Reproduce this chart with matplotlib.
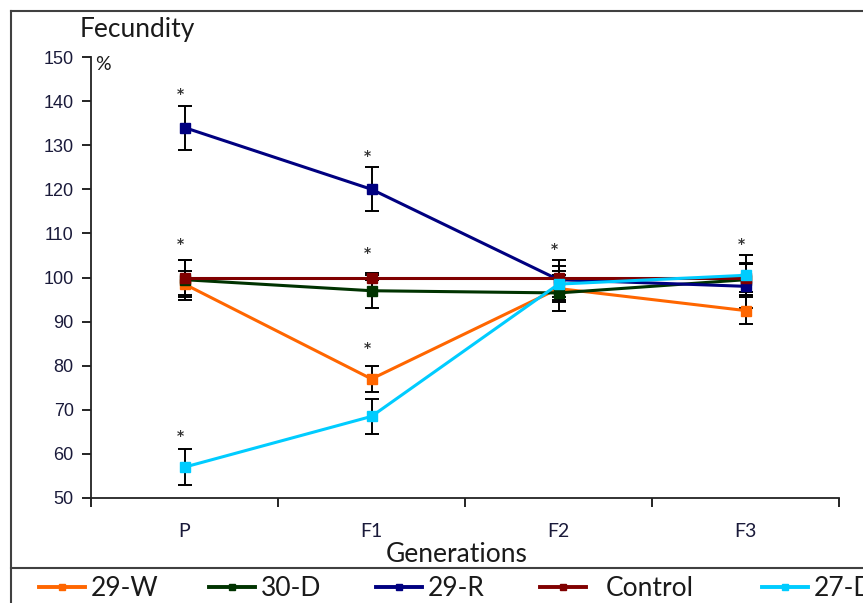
import numpy as np
import matplotlib
matplotlib.use("Agg")
import matplotlib.pyplot as plt
from matplotlib.lines import Line2D

# Data
generations = ["P", "F1", "F2", "F3"]
series_names = ["29-W", "30-D", "29-R", "Control", "27-D"]
series_colors = ["#FF6600", "#003300", "#000080", "#800000", "#00CCFF"]

w29 = [98.5, 77.0, 97.5, 92.5]
d30 = [99.5, 97.0, 96.5, 99.5]
r29 = [134.0, 120.0, 99.5, 98.0]
control = [100.0, 100.0, 100.0, 100.0]
d27 = [57.0, 68.5, 98.5, 100.5]

w29_err = [3.0, 3.0, 3.0, 3.0]
d30_err = [4.5, 4.0, 4.0, 3.5]
r29_err = [5.0, 5.0, 4.5, 5.0]
control_err = [4.0, 0.5, 2.6, 3.3]
d27_err = [4.0, 4.0, 3.0, 4.5]

# significance stars (category index, height)
star_x = [0, 0, 0, 1, 1, 1, 2, 3]
star_y = [141.5, 107.5, 64.0, 127.5, 105.5, 84.0, 106.5, 107.5]

all_values = [w29, d30, r29, control, d27]
all_errors = [w29_err, d30_err, r29_err, control_err, d27_err]

W, H = 863, 603
fig = plt.figure(figsize=(W / 100, H / 100), dpi=100)
ax = fig.add_axes([91 / W, 1 - 498 / H, (839 - 91) / W, (498 - 57) / H])

xpos = np.arange(len(generations)) + 0.5
for vals, errs, name, col in zip(all_values, all_errors, series_names, series_colors):
    ax.errorbar(xpos, vals, yerr=errs, color=col, lw=2.2, marker="s", ms=6.5,
                mec=col, ecolor="black", elinewidth=1.4, capsize=5, capthick=1.4,
                label=name)

for sx, sy in zip(star_x, star_y):
    ax.text(xpos[sx] - 0.02, sy, "*", ha="center", va="center", fontsize=10,
            fontweight="bold", color="#333333")

ax.set_xlim(0, 4)
ax.set_ylim(50, 150)
ax.set_yticks(np.arange(50, 151, 10))
ax.set_xticks(xpos)
ax.set_xticklabels(generations, fontfamily="Lato", fontsize=14, color="#1a1a3a")
ax.set_xticks(np.arange(0, 5), minor=True)
ax.tick_params(axis="x", which="major", length=0, pad=18)
ax.tick_params(axis="x", which="minor", length=6.5, width=1.2, direction="out")
ax.tick_params(axis="y", length=6.5, width=1.2, direction="out", labelsize=13,
               pad=6, labelcolor="#1a1a3a")
for lab in ax.get_yticklabels():
    lab.set_fontfamily("Liberation Sans")

for side in ["top", "right"]:
    ax.spines[side].set_visible(False)
for side in ["left", "bottom"]:
    ax.spines[side].set_linewidth(1.3)
    ax.spines[side].set_color("#222222")

fig.text(80 / W, 1 - 30 / H, "Fecundity", fontfamily="Lato", fontsize=19,
         ha="left", va="center", color="#1a1a1a")
fig.text(95 / W, 1 - 64 / H, "%", fontfamily="Lato", fontsize=14,
         ha="left", va="center", color="#1a1a1a")
fig.text(457 / W, 1 - 554 / H, "Generations", fontfamily="Lato", fontsize=19,
         ha="center", va="center", color="#1a1a1a")

# outer frame and legend box lines
frame_col = "#404040"
fig.add_artist(Line2D([11 / W, 1], [1 - 11 / H, 1 - 11 / H], color=frame_col, lw=1.5))
fig.add_artist(Line2D([11 / W, 11 / W], [0, 1 - 11 / H], color=frame_col, lw=1.5))
fig.add_artist(Line2D([11 / W, 1], [1 - 568 / H, 1 - 568 / H], color=frame_col, lw=1.5))

# legend entries, each placed at its own spot along the bottom row
legend_x = [39, 209, 376, 540, 762]
legend_pad = [0.2, 0.2, 0.2, 0.75, 0.2]
for name, col, lx, tp in zip(series_names, series_colors, legend_x, legend_pad):
    h = Line2D([], [], color=col, lw=2.8, marker="s", ms=5, mec=col)
    fig.legend([h], [name], loc="center left", bbox_to_anchor=(lx / W, 1 - 589 / H),
               frameon=False, prop={"family": "Lato", "size": 19},
               labelcolor="#1a1a1a", handlelength=1.75, handletextpad=tp,
               borderpad=0, borderaxespad=0)

fig.savefig("out.png", dpi=100)
